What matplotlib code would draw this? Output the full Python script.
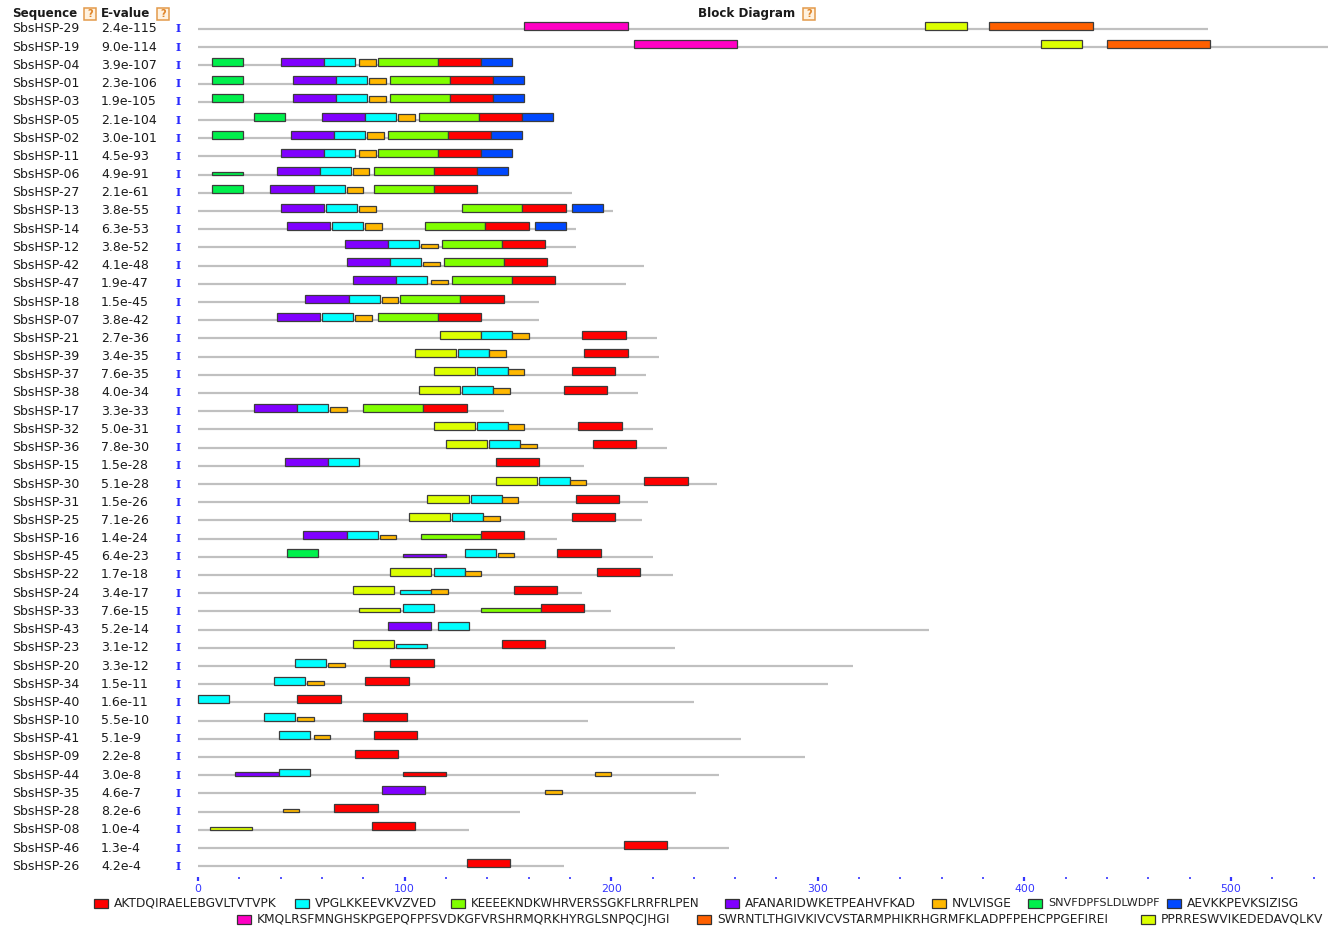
import matplotlib
matplotlib.use('Agg')
import matplotlib.pyplot as plt
from matplotlib.transforms import blended_transform_factory
from matplotlib.patches import Rectangle
from matplotlib.ticker import MultipleLocator, FixedLocator

# ---------------- data ----------------
motif_labels = [
    "AKTDQIRAELEBGVLTVTVPK",
    "VPGLKKEEVKVZVED",
    "KEEEEKNDKWHRVERSSGKFLRRFRLPEN",
    "AFANARIDWKETPEAHVFKAD",
    "NVLVISGE",
    "SNVFDPFSLDLWDPF",
    "AEVKKPEVKSIZISG",
    "KMQLRSFMNGHSKPGEPQFPFSVDKGFVRSHRMQRKHYRGLSNPQCJHGI",
    "SWRNTLTHGIVKIVCVSTARMPHIKRHGRMFKLADPFPEHCPPGEFIREI",
    "PPRRESWVIKEDEDAVQLKV",
]
motif_colors = ['#ff0000', '#00ffff', '#80ff00', '#8000ff', '#ffb800',
                '#00f04c', '#0048ff', '#ff00c4', '#ff6000', '#dcff00']
motif_widths = [21, 15, 29, 21, 8, 15, 15, 50, 50, 20]

seq_names = ["SbsHSP-29", "SbsHSP-19", "SbsHSP-04", "SbsHSP-01", "SbsHSP-03",
             "SbsHSP-05", "SbsHSP-02", "SbsHSP-11", "SbsHSP-06", "SbsHSP-27",
             "SbsHSP-13", "SbsHSP-14", "SbsHSP-12", "SbsHSP-42", "SbsHSP-47",
             "SbsHSP-18", "SbsHSP-07", "SbsHSP-21", "SbsHSP-39", "SbsHSP-37",
             "SbsHSP-38", "SbsHSP-17", "SbsHSP-32", "SbsHSP-36", "SbsHSP-15",
             "SbsHSP-30", "SbsHSP-31", "SbsHSP-25", "SbsHSP-16", "SbsHSP-45",
             "SbsHSP-22", "SbsHSP-24", "SbsHSP-33", "SbsHSP-43", "SbsHSP-23",
             "SbsHSP-20", "SbsHSP-34", "SbsHSP-40", "SbsHSP-10", "SbsHSP-41",
             "SbsHSP-09", "SbsHSP-44", "SbsHSP-35", "SbsHSP-28", "SbsHSP-08",
             "SbsHSP-46", "SbsHSP-26"]
e_values = ["2.4e-115", "9.0e-114", "3.9e-107", "2.3e-106", "1.9e-105",
            "2.1e-104", "3.0e-101", "4.5e-93", "4.9e-91", "2.1e-61",
            "3.8e-55", "6.3e-53", "3.8e-52", "4.1e-48", "1.9e-47",
            "1.5e-45", "3.8e-42", "2.7e-36", "3.4e-35", "7.6e-35",
            "4.0e-34", "3.3e-33", "5.0e-31", "7.8e-30", "1.5e-28",
            "5.1e-28", "1.5e-26", "7.1e-26", "1.4e-24", "6.4e-23",
            "1.7e-18", "3.4e-17", "7.6e-15", "5.2e-14", "3.1e-12",
            "3.3e-12", "1.5e-11", "1.6e-11", "5.5e-10", "5.1e-9",
            "2.2e-8", "3.0e-8", "4.6e-7", "8.2e-6", "1.0e-4",
            "1.3e-4", "4.2e-4"]
seq_lengths = [489, 550, 152, 158, 158, 172, 157, 152, 150, 181,
               201, 183, 183, 216, 207, 165, 165, 222, 223, 217,
               213, 148, 220, 227, 187, 251, 218, 215, 174, 220,
               230, 186, 200, 354, 231, 317, 305, 240, 189, 263,
               294, 252, 241, 156, 131, 257, 177]
# (motif index, start position, relative block height ~ motif score)
motif_sites = [
    [(7, 158, 1), (9, 352, 1), (8, 383, 1)],
    [(7, 211, 1), (9, 408, 1), (8, 440, 1)],
    [(5, 7, 1), (3, 40, 1), (1, 61, 1), (4, 78, .85), (2, 87, 1), (0, 116, 1), (6, 137, 1)],
    [(5, 7, 1), (3, 46, 1), (1, 67, 1), (4, 83, .8), (2, 93, 1), (0, 122, 1), (6, 143, 1)],
    [(5, 7, 1), (3, 46, 1), (1, 67, 1), (4, 83, .8), (2, 93, 1), (0, 122, 1), (6, 143, 1)],
    [(5, 27, 1), (3, 60, 1), (1, 81, 1), (4, 97, .8), (2, 107, 1), (0, 136, 1), (6, 157, 1)],
    [(5, 7, 1), (3, 45, 1), (1, 66, 1), (4, 82, .8), (2, 92, 1), (0, 121, 1), (6, 142, 1)],
    [(3, 40, 1), (1, 61, 1), (4, 78, .85), (2, 87, 1), (0, 116, 1), (6, 137, 1)],
    [(5, 7, .35), (3, 38, 1), (1, 59, 1), (4, 75, .85), (2, 85, 1), (0, 114, 1), (6, 135, 1)],
    [(5, 7, 1), (3, 35, 1), (1, 56, 1), (4, 72, .85), (2, 85, 1), (0, 114, 1)],
    [(3, 40, 1), (1, 62, 1), (4, 78, .75), (2, 128, 1), (0, 157, 1), (6, 181, 1)],
    [(3, 43, 1), (1, 65, 1), (4, 81, .9), (2, 110, 1), (0, 139, 1), (6, 163, 1)],
    [(3, 71, 1), (1, 92, 1), (4, 108, .5), (2, 118, 1), (0, 147, 1)],
    [(3, 72, 1), (1, 93, 1), (4, 109, .55), (2, 119, 1), (0, 148, 1)],
    [(3, 75, 1), (1, 96, 1), (4, 113, .5), (2, 123, 1), (0, 152, 1)],
    [(3, 52, 1), (1, 73, 1), (4, 89, .75), (2, 98, 1), (0, 127, 1)],
    [(3, 38, 1), (1, 60, 1), (4, 76, .7), (2, 87, 1), (0, 116, 1)],
    [(9, 117, 1), (1, 137, 1), (4, 152, .8), (0, 186, 1)],
    [(9, 105, 1), (1, 126, 1), (4, 141, .9), (0, 187, 1)],
    [(9, 114, 1), (1, 135, 1), (4, 150, .8), (0, 181, 1)],
    [(9, 107, 1), (1, 128, 1), (4, 143, .65), (0, 177, 1)],
    [(3, 27, 1), (1, 48, 1), (4, 64, .6), (2, 80, 1), (0, 109, 1)],
    [(9, 114, 1), (1, 135, 1), (4, 150, .7), (0, 184, 1)],
    [(9, 120, 1), (1, 141, 1), (4, 156, .5), (0, 191, 1)],
    [(3, 42, 1), (1, 63, 1), (0, 144, 1)],
    [(9, 144, 1), (1, 165, 1), (4, 180, .6), (0, 216, 1)],
    [(9, 111, 1), (1, 132, 1), (4, 147, .75), (0, 183, 1)],
    [(9, 102, 1), (1, 123, 1), (4, 138, .65), (0, 181, 1)],
    [(3, 51, 1), (1, 72, 1), (4, 88, .5), (2, 108, .65), (0, 137, 1)],
    [(5, 43, 1), (3, 99, .45), (1, 129, 1), (4, 145, .55), (0, 174, 1)],
    [(9, 93, 1), (1, 114, 1), (4, 129, .55), (0, 193, 1)],
    [(9, 75, 1), (1, 98, .5), (4, 113, .55), (0, 153, 1)],
    [(9, 78, .5), (1, 99, 1), (2, 137, .5), (0, 166, 1)],
    [(3, 92, 1), (1, 116, 1)],
    [(9, 75, 1), (1, 96, .6), (0, 147, 1)],
    [(1, 47, 1), (4, 63, .5), (0, 93, 1)],
    [(1, 37, 1), (4, 53, .5), (0, 81, 1)],
    [(1, 0, 1), (0, 48, 1)],
    [(1, 32, 1), (4, 48, .5), (0, 80, 1)],
    [(1, 39, 1), (4, 56, .55), (0, 85, 1)],
    [(0, 76, 1)],
    [(3, 18, .5), (1, 39, .9), (0, 99, .45), (4, 192, .45)],
    [(3, 89, 1), (4, 168, .45)],
    [(4, 41, .45), (0, 66, 1)],
    [(9, 6, .4), (0, 84, 1)],
    [(0, 206, 1)],
    [(0, 130, 1)],
]
axis_major = [0, 100, 200, 300, 400, 500]

# ---------------- layout ----------------
W, H = 1328, 926
fig = plt.figure(figsize=(W / 100, H / 100), dpi=100)
fig.patch.set_facecolor('white')

x0_px, px_per_unit = 198.0, 2.066
row0_px, row_step = 29.0, 18.2
ax_left_px, ax_bottom_px = 190.0, 877.0
ax = fig.add_axes([ax_left_px / W, (H - ax_bottom_px) / H,
                   (W - ax_left_px) / W, ax_bottom_px / H])
ax.set_xlim((ax_left_px - x0_px) / px_per_unit, (W - x0_px) / px_per_unit)
ax.set_ylim((ax_bottom_px - row0_px) / row_step, -row0_px / row_step)
for s in ax.spines.values():
    s.set_visible(False)
ax.set_yticks([])

full_h = 8.0 / row_step
for i, (L, sites) in enumerate(zip(seq_lengths, motif_sites)):
    ax.hlines(i, 0, L, color='#c0c0c0', lw=1.6, zorder=1)
    for m, start, sc in sites:
        h = full_h * sc
        ax.bar(start, h, width=motif_widths[m], bottom=i + 0.03 - h, align='edge',
               color=motif_colors[m], edgecolor='#3c3c3c', linewidth=0.9, zorder=2)

blue = '#3535ff'
ax.xaxis.set_major_locator(FixedLocator(axis_major))
ax.xaxis.set_minor_locator(MultipleLocator(20))
ax.tick_params(axis='x', which='major', length=3.2, width=1.6, color=blue,
               labelcolor=blue, labelsize=7.8, pad=1.5, direction='out')
ax.tick_params(axis='x', which='minor', length=1.2, width=1.2, color=blue)

# ---------------- left texts ----------------
tr = blended_transform_factory(fig.transFigure, ax.transData)
for i, (n, e) in enumerate(zip(seq_names, e_values)):
    fig.text(12 / W, i, n, transform=tr, fontsize=9, color='#1a1a1a',
             va='center', ha='left', family='DejaVu Sans')
    fig.text(101 / W, i, e, transform=tr, fontsize=9, color='#1a1a1a',
             va='center', ha='left', family='DejaVu Sans')
    fig.text(178.5 / W, i, 'I', transform=tr, fontsize=8, color='#2a2aff',
             va='center', ha='center', family='DejaVu Serif', fontweight='bold')

# headers
def hdr(x, txt):
    fig.text(x / W, 1 - 13.5 / H, txt, fontsize=8.6, fontweight='bold',
             color='#1a1a1a', va='center', ha='left')

def qicon(x):
    fig.add_artist(Rectangle(((x - 6) / W, 1 - 19.5 / H), 12 / W, 11 / H,
                             transform=fig.transFigure, fc='#fff2e0',
                             ec='#e39a4a', lw=1.1))
    fig.text(x / W, 1 - 14 / H, '?', fontsize=7, color='#e0862a',
             va='center', ha='center', fontweight='bold')

hdr(12, 'Sequence'); qicon(90)
hdr(101, 'E-value'); qicon(163)
hdr(698, 'Block Diagram'); qicon(809)

# ---------------- legend ----------------
legend_rows = [
    ([0, 1, 2, 3, 4, 5, 6], [94, 295, 451, 725, 932, 1028, 1167], 903.3),
    ([7, 8, 9], [237, 697, 1141], 919.3),
]
legend_text_px = {0: 169, 1: 124, 2: 232, 3: 176, 4: 63, 5: 112, 6: 137,
                  7: 427, 8: 405, 9: 163}
renderer = fig.canvas.get_renderer()
for idxs, xs, yc in legend_rows:
    for m, xb in zip(idxs, xs):
        fig.add_artist(Rectangle((xb / W, 1 - (yc + 4.5) / H), 14 / W, 9 / H,
                                 transform=fig.transFigure, fc=motif_colors[m],
                                 ec='#333333', lw=0.9))
        t = fig.text((xb + 20) / W, 1 - yc / H, motif_labels[m], fontsize=8.8,
                     color='#222222', va='center', ha='left')
        wpx = t.get_window_extent(renderer).width
        fs = 8.8 * legend_text_px[m] / wpx
        t.set_fontsize(min(max(fs, 8.1), 8.8))

fig.savefig('out.png', dpi=100)
